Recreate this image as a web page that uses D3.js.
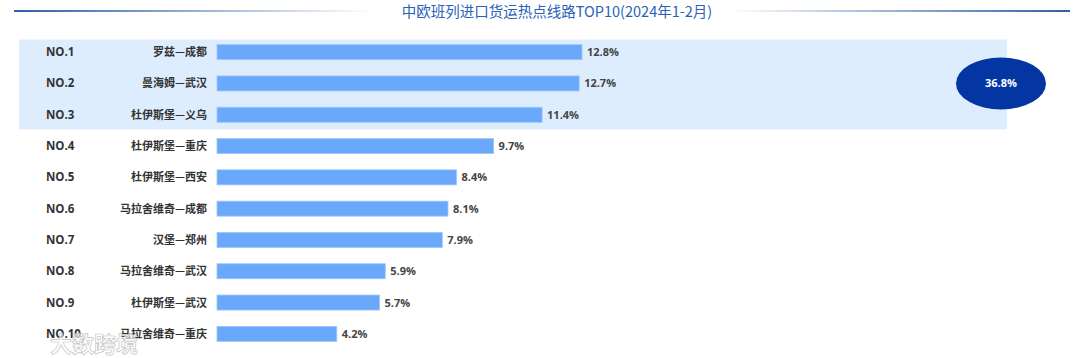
<!DOCTYPE html>
<html><head><meta charset="utf-8">
<script src="https://cdn.jsdelivr.net/npm/d3@7"></script>
<style>body{margin:0;background:#fff;}svg{display:block;font-family:"Noto Sans CJK SC","Noto Sans",sans-serif;}</style>
</head><body>
<svg id="c" width="1080" height="358"></svg>
<script>
const title = "中欧班列进口货运热点线路TOP10(2024年1-2月)";
const ranks = ["NO.1","NO.2","NO.3","NO.4","NO.5","NO.6","NO.7","NO.8","NO.9","NO.10"];
const routes = ["罗兹—成都","曼海姆—武汉","杜伊斯堡—义乌","杜伊斯堡—重庆","杜伊斯堡—西安","马拉舍维奇—成都","汉堡—郑州","马拉舍维奇—武汉","杜伊斯堡—武汉","马拉舍维奇—重庆"];
const shares = [12.8,12.7,11.4,9.7,8.4,8.1,7.9,5.9,5.7,4.2];
const top3Total = "36.8%";

const svg = d3.select("#c");
const defs = svg.append("defs");
const gl = defs.append("linearGradient").attr("id","gl").attr("x1","0").attr("x2","1");
gl.append("stop").attr("offset","0").attr("stop-color","#2f5fa8");
gl.append("stop").attr("offset","1").attr("stop-color","#2f5fa8").attr("stop-opacity","0");
const gr = defs.append("linearGradient").attr("id","gr").attr("x1","0").attr("x2","1");
gr.append("stop").attr("offset","0").attr("stop-color","#2f5fa8").attr("stop-opacity","0");
gr.append("stop").attr("offset","1").attr("stop-color","#2f5fa8");

svg.append("rect").attr("x",14).attr("y",10).attr("width",360).attr("height",2).attr("fill","url(#gl)");
svg.append("rect").attr("x",728).attr("y",10).attr("width",342).attr("height",2).attr("fill","url(#gr)");
svg.append("text").attr("x",557).attr("y",17).attr("text-anchor","middle")
  .attr("font-size",14.5).attr("fill","#2a62b8").text(title);

const y = d3.scaleBand().domain(ranks).range([36.5,349.5]).paddingInner(0);
const x = d3.scaleLinear().domain([0,12.8]).range([217,582]);
const barH = 15;

// highlight band for top 3
svg.append("rect").attr("x",19).attr("y",y("NO.1")+3).attr("width",988)
  .attr("height",y("NO.3")+y.bandwidth()-y("NO.1")-4).attr("fill","#deedfe");

const g = svg.append("g");
const rows = g.selectAll("g.row").data(ranks).join("g").attr("class","row");
rows.append("text").attr("x",46).attr("y",r=>y(r)+y.bandwidth()/2+4)
  .attr("font-size",11.5).attr("font-weight","bold").attr("fill","#333").attr("font-family","Open Sans, Noto Sans, sans-serif").text(r=>r);
rows.append("text").attr("x",207).attr("y",r=>y(r)+y.bandwidth()/2+4).attr("text-anchor","end")
  .attr("font-size",11).attr("font-weight","bold").attr("fill","#333").text((r,i)=>routes[i]);
rows.append("rect").attr("x",x(0)).attr("y",r=>y(r)+y.bandwidth()/2-barH/2)
  .attr("width",(r,i)=>x(shares[i])-x(0)).attr("height",barH).attr("fill","#69a8fa")
  .attr("stroke","#9cc6fb").attr("stroke-width",0.8);
rows.append("text").attr("x",(r,i)=>x(shares[i])+5).attr("y",r=>y(r)+y.bandwidth()/2+4)
  .attr("font-size",11).attr("font-weight","bold").attr("fill","#444").attr("font-family","Open Sans, Noto Sans, sans-serif").text((r,i)=>shares[i].toFixed(1)+"%");

const cy = y("NO.2")+y.bandwidth()/2;
svg.append("ellipse").attr("cx",1001).attr("cy",cy).attr("rx",45).attr("ry",26).attr("fill","#0336a3");
svg.append("text").attr("x",1001).attr("y",cy+4).attr("text-anchor","middle").attr("font-size",11)
  .attr("font-weight","bold").attr("fill","#fff").attr("font-family","Open Sans, Noto Sans, sans-serif").text(top3Total);

// watermark
svg.append("text").attr("x",50).attr("y",352).attr("font-size",22).attr("font-weight","bold")
  .attr("fill","#fff").attr("fill-opacity",0.7).attr("stroke","#c4c4c4").attr("stroke-width",0.7).text("大数跨境");
</script>
</body></html>
